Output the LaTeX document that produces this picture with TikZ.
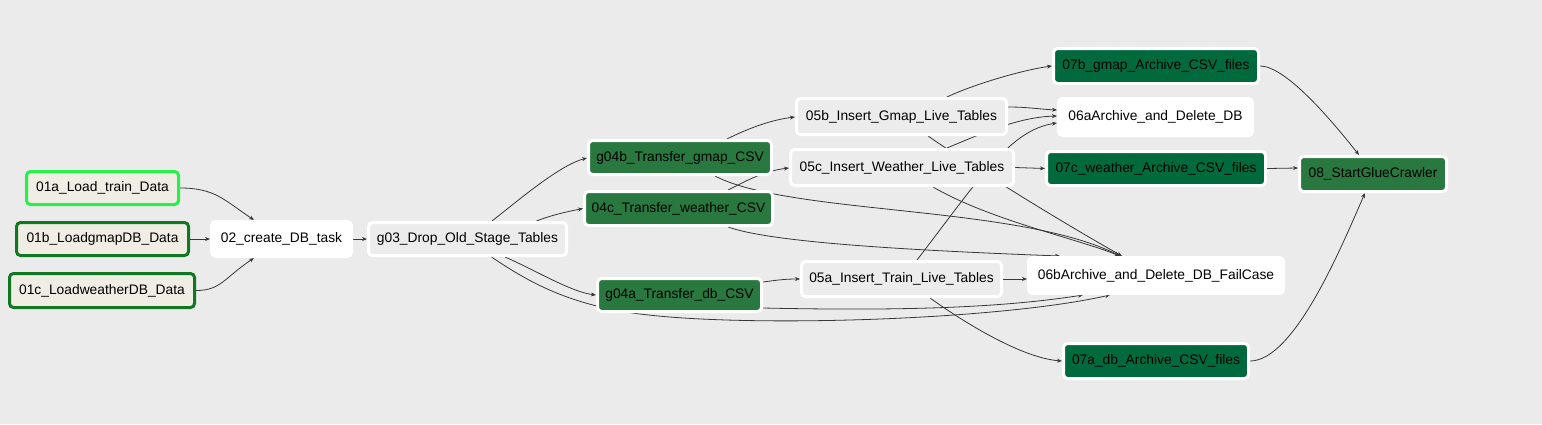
\documentclass[tikz,border=0pt]{standalone}
\usepackage{fontspec}
\setmainfont{Liberation Sans}
\usetikzlibrary{calc,arrows.meta}
\pgfdeclarelayer{bg}
\pgfdeclarelayer{edges}
\pgfsetlayers{bg,edges,main}
\definecolor{bgcol}{RGB}{235,235,235}
\definecolor{graynode}{RGB}{236,236,236}
\definecolor{greennode}{RGB}{40,120,64}
\definecolor{darknode}{RGB}{0,106,60}
\definecolor{loadfill}{RGB}{240,237,228}
\definecolor{limeborder}{RGB}{40,240,70}
\definecolor{darkborder}{RGB}{17,119,34}
\definecolor{edgecol}{RGB}{55,55,55}
\begin{document}
\begin{tikzpicture}[x=1pt,y=-1pt,
  task/.style={rectangle, rounded corners=4pt, line width=3pt, inner sep=0pt,
    font=\fontsize{13.8}{16}\selectfont, text=black},
  whitetask/.style={task, fill=white, draw=white},
  graytask/.style={task, fill=graynode, draw=white},
  greentask/.style={task, fill=greennode, draw=white},
  darktask/.style={task, fill=darknode, draw=white},
  limetask/.style={task, fill=loadfill, draw=limeborder},
  loadtask/.style={task, fill=loadfill, draw=darkborder},
  conn/.style={draw=edgecol, line width=0.8pt, -{Stealth[length=5pt,width=4pt]}}
]
\begin{pgfonlayer}{bg}
\fill[bgcol] (0,0) rectangle (1542,424);
\end{pgfonlayer}
\useasboundingbox (0,0) rectangle (1542,424);

% nodes (minimum size = outer size - line width)
\node[limetask, minimum width=152pt, minimum height=33pt] (a01a) at (102.5,188) {01a\_Load\_train\_Data};
\node[loadtask, minimum width=172pt, minimum height=33pt] (a01b) at (102.5,239) {01b\_LoadgmapDB\_Data};
\node[loadtask, minimum width=185pt, minimum height=34pt] (a01c) at (102,290.5) {01c\_LoadweatherDB\_Data};
\node[whitetask, minimum width=140pt, minimum height=35pt] (n02) at (281.5,239) {02\_create\_DB\_task};
\node[graytask, minimum width=198pt, minimum height=33pt] (g03) at (467.5,239) {g03\_Drop\_Old\_Stage\_Tables};
\node[greentask, minimum width=183pt, minimum height=34pt] (g04b) at (680,157.5) {g04b\_Transfer\_gmap\_CSV};
\node[greentask, minimum width=188pt, minimum height=34pt] (c04c) at (678.5,208.5) {04c\_Transfer\_weather\_CSV};
\node[greentask, minimum width=164pt, minimum height=33pt] (g04a) at (679.5,295) {g04a\_Transfer\_db\_CSV};
\node[graytask, minimum width=210pt, minimum height=36pt] (b05) at (901.5,116.5) {05b\_Insert\_Gmap\_Live\_Tables};
\node[graytask, minimum width=223pt, minimum height=36pt] (c05) at (902,167.5) {05c\_Insert\_Weather\_Live\_Tables};
\node[graytask, minimum width=200pt, minimum height=35pt] (a05) at (901.5,279) {05a\_Insert\_Train\_Live\_Tables};
\node[whitetask, minimum width=194pt, minimum height=37pt] (a06) at (1155.5,117) {06aArchive\_and\_Delete\_DB};
\node[whitetask, minimum width=255pt, minimum height=36pt] (b06) at (1156,275.5) {06bArchive\_and\_Delete\_DB\_FailCase};
\node[darktask, minimum width=205pt, minimum height=35pt] (b07) at (1156,66) {07b\_gmap\_Archive\_CSV\_files};
\node[darktask, minimum width=219pt, minimum height=34pt] (c07) at (1156,168.5) {07c\_weather\_Archive\_CSV\_files};
\node[darktask, minimum width=185pt, minimum height=35pt] (a07) at (1156,361) {07a\_db\_Archive\_CSV\_files};
\node[greentask, minimum width=147pt, minimum height=35pt] (n08) at (1373,174) {08\_StartGlueCrawler};

\begin{pgfonlayer}{edges}
% loaders -> create
\draw[conn] (a01a.east) .. controls +(35,0) and +(-30,-20) .. ($(n02.north)+(-27.5,0)$);
\draw[conn] (a01b.east) -- (n02.west);
\draw[conn] (a01c.east) .. controls +(25,0) and +(-30,20) .. ($(n02.south)+(-27.5,0)$);
\draw[conn] (n02.east) -- (g03.west);
% g03 -> transfers
\draw[conn] ($(g03.north)+(24.5,0)$) .. controls +(28,-22) and +(-27,7) .. ($(g04b.west)+(0,0.5)$);
\draw[conn] ($(g03.north)+(69,0)$) .. controls +(15,-6) and +(-15,3) .. (c04c.west);
\draw[conn] ($(g03.south)+(37.5,0)$) .. controls +(30,13) and +(-25,-3) .. (g04a.west);
\draw[conn] ($(g03.south)+(24,0)$) .. controls (530,283) and (570,305) .. (640,314)
   .. controls (750,328) and (1000,320) .. ($(b06.south)+(-46,0)$);
% transfers -> inserts / 06b
\draw[conn] ($(g04b.north)+(47,0)$) .. controls +(20,-10) and +(-25,3) .. ($(b05.west)+(0,0.5)$);
\draw[conn] ($(g04b.south)+(35,0)$) .. controls +(75,39) and +(-100,-51) .. ($(b06.north)+(-36,0)$);
\draw[conn] ($(c04c.north)+(49.5,0)$) .. controls +(20,-10) and +(-25,3) .. ($(c05.west)+(0,0.5)$);
\draw[conn] ($(c04c.south)+(49.5,0)$) .. controls +(42,15) and +(-160,-6) .. ($(b06.north)+(-96,0)$);
\draw[conn] ($(g04a.east)+(0,-13)$) .. controls +(15,-2) and +(-15,0) .. (a05.west);
\draw[conn] ($(g04a.east)+(0,13)$) .. controls +(137,3) and +(-83,13) .. ($(b06.south)+(-73,0)$);
% inserts -> archives
\draw[conn] ($(b05.north)+(45.5,0)$) .. controls +(25,-12) and +(-30,4) .. (b07.west);
\draw[conn] ($(b05.east)+(0,-9.5)$) .. controls +(20,0) and +(-20,-1) .. ($(a06.west)+(0,-7)$);
\draw[conn] ($(c05.north)+(45,0)$) .. controls +(38,-16) and +(-37,1) .. ($(a06.west)+(0,-1)$);
\draw[conn] ($(a05.north)+(15.5,0)$) .. controls +(63,-82) and +(-47,7) .. ($(a06.west)+(0,6)$);
\draw[conn] (c05.east) -- (c07.west);
\draw[conn] ($(c05.south)+(31,0)$) .. controls +(57,33) and +(-45,-18) .. ($(b06.north)+(-36,0)$);
\draw[conn] ($(b05.south)+(26.5,0)$) .. controls +(55,38) and +(-50,-28) .. ($(b06.north)+(-34,0)$);
\draw[conn] (a05.east) -- ($(b06.west)+(0,3.5)$);
\draw[conn] ($(a05.south)+(28.5,0)$) .. controls +(35,25) and +(-40,-3) .. (a07.west);
% archives -> crawler
\draw[conn] (b07.east) .. controls +(25,0) and +(-30,-38) .. ($(n08.north)+(-14,0)$);
\draw[conn] (c07.east) -- ($(n08.west)+(0,-6)$);
\draw[conn] (a07.east) .. controls +(45,0) and +(-22,50) .. ($(n08.south)+(-8,0)$);
\end{pgfonlayer}
\end{tikzpicture}
\end{document}
